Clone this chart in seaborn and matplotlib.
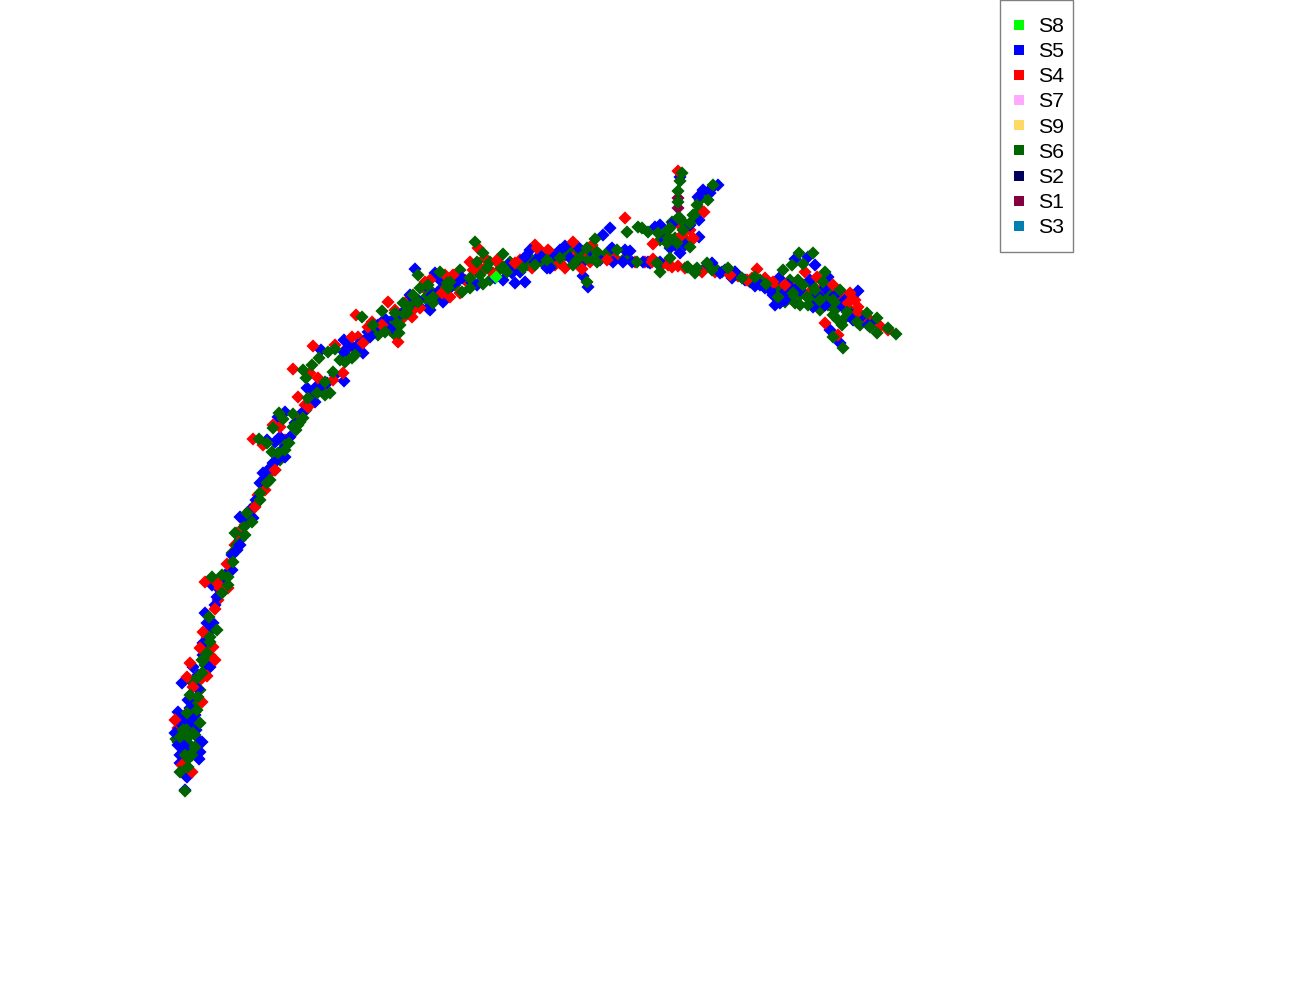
import pandas as pd
import matplotlib
matplotlib.use("Agg")
import matplotlib.pyplot as plt
from matplotlib.lines import Line2D
from matplotlib.patches import Rectangle
import seaborn as sns

# series order as in the legend
labels = ["S8", "S5", "S4", "S7", "S9", "S6", "S2", "S1", "S3"]
colors = ["#00ff00", "#0000ff", "#ff0000", "#ffaaff", "#ffd966",
          "#006400", "#00005f", "#850040", "#0080b0"]

# embedding coordinates
s8 = [(496, 277)]
s1 = [(678, 208), (678, 198)]
s5 = [
    (185, 790), (187, 777), (199, 759), (180, 755), (185, 747), (200, 752), (202, 742), (175, 733),
    (180, 723), (192, 722), (178, 712), (198, 689), (188, 700), (182, 683), (193, 667), (210, 667),
    (203, 643), (213, 623), (207, 623), (205, 613), (217, 597), (212, 585), (232, 570), (223, 582),
    (240, 517), (253, 518), (240, 545), (237, 550), (260, 483), (263, 473), (273, 463), (277, 460),
    (285, 457), (280, 437), (275, 442), (285, 412), (278, 417), (267, 440), (307, 388), (315, 402),
    (316, 387), (327, 383), (344, 381), (344, 340), (344, 352), (321, 350), (357, 350), (363, 353),
    (370, 337), (385, 319), (393, 328), (428, 308), (443, 302), (415, 269), (430, 310), (443, 300),
    (477, 285), (462, 278), (455, 282), (515, 283), (525, 282), (512, 273), (525, 257), (565, 246),
    (578, 247), (547, 268), (588, 287), (583, 276), (610, 228), (603, 235), (612, 248), (630, 251),
    (613, 262), (623, 262), (643, 262), (655, 227), (673, 223), (680, 253), (435, 273), (420, 307),
    (438, 292), (503, 280), (550, 268), (680, 177), (718, 185), (710, 193), (698, 197), (699, 220),
    (670, 248), (699, 237), (712, 263), (720, 273), (732, 278), (735, 272), (755, 286), (795, 259),
    (808, 257), (779, 278), (773, 295), (775, 305), (785, 292), (810, 280), (828, 277), (825, 288),
    (858, 291), (843, 307), (868, 325), (853, 320), (830, 330), (840, 343), (813, 307),
    (178, 745), (200, 742), (190, 735), (183, 742), (180, 763), (196, 730), (185, 716), (195, 715),
    (190, 708), (205, 650), (198, 675), (203, 655), (210, 630), (215, 605), (220, 590), (225, 575),
    (232, 555), (245, 520), (250, 510), (256, 500), (265, 478), (270, 468), (282, 450), (290, 437),
    (295, 423), (303, 412), (312, 395), (322, 385), (335, 375), (350, 345), (358, 345), (368, 332),
    (378, 325), (395, 318), (405, 310), (418, 300), (432, 295), (448, 290), (458, 280), (472, 283),
    (365, 340), (385, 325), (410, 295), (425, 285), (440, 280), (495, 278), (508, 265), (520, 272),
    (535, 262), (540, 255), (555, 255), (570, 258), (580, 265), (590, 250), (600, 260), (625, 250),
    (632, 262), (650, 263), (560, 250), (530, 250), (785, 300), (795, 290), (788, 285), (800, 290),
    (818, 295), (835, 295), (845, 300), (852, 315), (860, 318), (875, 322), (780, 303), (770, 290),
    (825, 305), (815, 265), (705, 268), (725, 270), (745, 280), (760, 285), (765, 288), (665, 240),
    (675, 245), (685, 245), (690, 225), (703, 190), (712, 188), (660, 225), (648, 262), (660, 262),
]
s4 = [
    (192, 772), (182, 765), (175, 720), (202, 702), (193, 687), (207, 676), (187, 677), (190, 663),
    (215, 660), (213, 647), (200, 648), (203, 632), (215, 609), (205, 582), (217, 583), (228, 588),
    (220, 588), (227, 564), (253, 439), (263, 445), (273, 425), (280, 427), (293, 369), (310, 373),
    (298, 397), (308, 407), (318, 378), (333, 380), (343, 373), (313, 346), (335, 345), (352, 337),
    (363, 343), (356, 315), (368, 327), (398, 342), (388, 302), (420, 308), (382, 325), (255, 507),
    (265, 490), (275, 470), (237, 533), (425, 282), (445, 275), (453, 275), (442, 293), (450, 297),
    (473, 270), (478, 248), (497, 260), (515, 263), (537, 248), (548, 250), (573, 242), (560, 263),
    (582, 269), (592, 245), (532, 268), (625, 218), (653, 244), (682, 235), (652, 262), (672, 267),
    (693, 238), (607, 260), (412, 317), (430, 280), (460, 293), (493, 273), (678, 171), (704, 212),
    (693, 239), (653, 259), (678, 266), (668, 265), (757, 269), (730, 275), (773, 282), (785, 285),
    (817, 277), (833, 285), (850, 293), (858, 312), (858, 307), (880, 326), (825, 323), (838, 335),
    (888, 330), (848, 303), (747, 280), (702, 272),
]
# red points that sit underneath the blue ones
s4_under = [
    (187, 752), (178, 728), (188, 730), (195, 712), (200, 680), (210, 655), (218, 600), (222, 592),
    (225, 578), (207, 638), (185, 775), (245, 525), (235, 545), (258, 495), (268, 475), (285, 440),
    (300, 415), (305, 405), (315, 390), (325, 385), (345, 350), (358, 337), (375, 325), (390, 330),
    (403, 318), (415, 308), (428, 292), (440, 298), (452, 285), (465, 280), (480, 268), (372, 322),
    (355, 350), (395, 310), (408, 300), (445, 285), (470, 262), (485, 258), (485, 268), (500, 265),
    (520, 260), (530, 262), (540, 250), (545, 258), (555, 265), (570, 250), (575, 258), (585, 255),
    (590, 262), (600, 255), (615, 258), (635, 262), (645, 262), (662, 265), (565, 268), (535, 245),
    (800, 288), (810, 292), (820, 290), (828, 298), (838, 302), (843, 295), (845, 305), (855, 300),
    (865, 318), (870, 320), (790, 285), (775, 285), (805, 272), (715, 272), (738, 276), (752, 278),
    (765, 278), (672, 240), (690, 230), (680, 225), (667, 262), (685, 268), (695, 270),
]
s6 = [
    (185, 791), (180, 772), (188, 767), (185, 755), (192, 755), (195, 747), (188, 737), (180, 737),
    (193, 733), (183, 730), (200, 723), (197, 710), (187, 713), (190, 695), (198, 697), (202, 673),
    (197, 678), (202, 660), (207, 653), (210, 642), (210, 637), (217, 630), (209, 617), (222, 593),
    (228, 585), (228, 577), (212, 577), (222, 575), (233, 562), (235, 533), (244, 527), (245, 535),
    (247, 513), (252, 522), (260, 500), (260, 493), (270, 480), (267, 483), (289, 443), (285, 450),
    (278, 453), (272, 452), (267, 443), (259, 439), (273, 428), (293, 427), (300, 422), (303, 418),
    (293, 414), (279, 413), (283, 419), (308, 398), (325, 395), (330, 393), (317, 393), (325, 382),
    (333, 372), (328, 352), (319, 358), (335, 349), (312, 365), (306, 378), (303, 370), (345, 362),
    (352, 358), (355, 355), (362, 317), (382, 311), (373, 325), (385, 332), (399, 333), (395, 313),
    (397, 323), (407, 313), (403, 303), (418, 302), (433, 303), (408, 308), (418, 275), (413, 295),
    (420, 288), (428, 285), (440, 272), (447, 283), (433, 297), (448, 288), (462, 292), (470, 278),
    (475, 242), (483, 253), (477, 262), (487, 268), (503, 254), (503, 267), (507, 272), (523, 268),
    (535, 265), (547, 260), (560, 258), (573, 265), (577, 260), (597, 262), (587, 248), (597, 252),
    (617, 250), (595, 239), (627, 232), (638, 227), (648, 232), (658, 233), (668, 230), (678, 218),
    (693, 215), (667, 243), (683, 230), (677, 243), (690, 247), (637, 262), (657, 263), (660, 272),
    (687, 267), (695, 273), (587, 282), (483, 284), (470, 288), (450, 282), (405, 313), (682, 173),
    (680, 181), (678, 191), (678, 202), (713, 185), (708, 200), (697, 205), (694, 215), (680, 218),
    (690, 223), (670, 228), (668, 238), (642, 228), (670, 258), (688, 267), (697, 268), (707, 263),
    (712, 270), (728, 268), (742, 278), (755, 277), (766, 284), (783, 270), (792, 265), (799, 253),
    (813, 253), (803, 264), (825, 272), (823, 282), (793, 293), (778, 297), (795, 303), (808, 305),
    (803, 285), (815, 290), (807, 297), (820, 300), (840, 290), (833, 300), (847, 312), (833, 315),
    (842, 325), (857, 322), (867, 313), (877, 318), (870, 327), (877, 333), (888, 328), (896, 334),
    (833, 337), (843, 348),
]
# green points that sit underneath the blue and red ones
s6_under = [
    (183, 745), (190, 745), (195, 735), (188, 725), (178, 742), (192, 717), (195, 705), (205, 665),
    (193, 683), (213, 628), (205, 660), (200, 690), (187, 760), (183, 762), (188, 748), (197, 725),
    (176, 739), (240, 540), (232, 553), (237, 545), (250, 515), (255, 505), (263, 490), (275, 470),
    (280, 460), (285, 445), (298, 425), (296, 430), (306, 410), (310, 403), (315, 395), (320, 390),
    (340, 360), (348, 357), (360, 345), (365, 340), (375, 330), (390, 322), (400, 316), (410, 305),
    (425, 298), (440, 290), (455, 285), (470, 280), (480, 275), (395, 335), (378, 335), (400, 325),
    (415, 300), (430, 290), (445, 278), (460, 270), (490, 262), (497, 272), (510, 262), (515, 268),
    (530, 258), (540, 258), (550, 252), (555, 262), (565, 255), (580, 252), (583, 262), (590, 258),
    (605, 255), (610, 250), (625, 258), (570, 248), (545, 265), (528, 265), (490, 280), (785, 290),
    (790, 298), (800, 295), (810, 298), (815, 303), (825, 298), (828, 305), (835, 310), (840, 305),
    (845, 318), (850, 310), (838, 320), (855, 315), (800, 305), (785, 302), (812, 285), (798, 280),
    (820, 310), (790, 280), (830, 292), (860, 325), (780, 290), (715, 268), (722, 272), (735, 272),
    (750, 282), (760, 280), (675, 238), (685, 240), (660, 240), (672, 222), (683, 222), (700, 210),
    (704, 195), (710, 190), (700, 200), (665, 235),
]

# drawn back to front
draw_order = [("S4", s4_under), ("S6", s6_under), ("S5", s5), ("S4", s4),
              ("S1", s1), ("S6", s6), ("S8", s8)]
rows = [(name, x, y) for name, pts in draw_order for x, y in pts]
df = pd.DataFrame(rows, columns=["series", "dim1", "dim2"])

sns.set_theme(style="white")
plt.rcParams["font.family"] = ["Liberation Sans", "DejaVu Sans"]

fig = plt.figure(figsize=(13, 10), dpi=100)
ax = fig.add_axes([0, 0, 1, 1])
sns.scatterplot(data=df, x="dim1", y="dim2", hue="series", hue_order=labels,
                palette=dict(zip(labels, colors)), marker="D", s=45,
                linewidth=0, legend=False, ax=ax)
ax.set_xlim(0, 1300)
ax.set_ylim(1000, 0)
ax.axis("off")

# legend box, kept separate so the padding can differ per side
ax.add_patch(Rectangle((1000, 0), 73, 252, facecolor="white", edgecolor="#808080",
                       linewidth=1, clip_on=False, zorder=5))
handles = [Line2D([], [], linestyle="none", marker="s", markersize=7.2,
                  markerfacecolor=c, markeredgewidth=0, label=l)
           for l, c in zip(labels, colors)]
leg = ax.legend(handles=handles, loc="upper left", bbox_to_anchor=(1014 / 1300, 1 - 17 / 1000),
                borderaxespad=0, frameon=False, fontsize=15.3, labelspacing=0.29,
                borderpad=0, handlelength=0.46, handletextpad=0.65, labelcolor="black")
leg.set_zorder(6)

fig.savefig("out.png", dpi=100)
